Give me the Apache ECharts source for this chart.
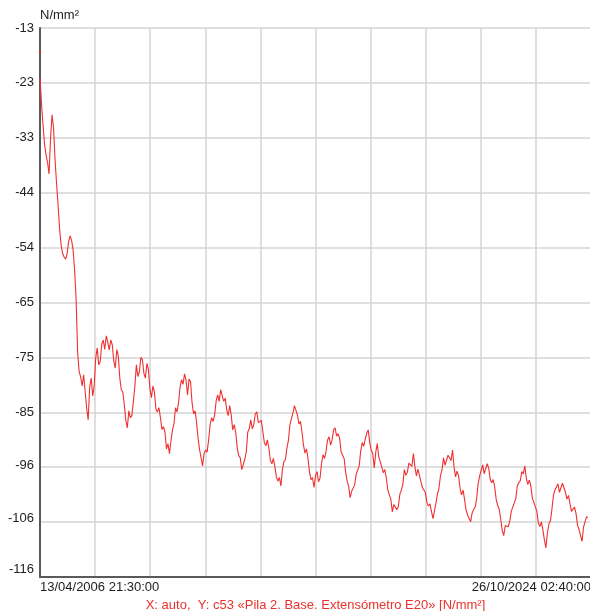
<!DOCTYPE html>
<html>
<head>
<meta charset="utf-8">
<script src="https://cdn.jsdelivr.net/npm/echarts@6/dist/echarts.min.js"></script>
<style>
html,body{margin:0;padding:0;background:#fff;}
#chart{width:590px;height:611px;}
</style>
</head>
<body>
<div id="chart"></div>
<script>
// ---- data ----
const startTime = [2006, 4, 13, 21, 30, 0];   // 13/04/2006 21:30:00
const endTime = [2024, 10, 26, 2, 40, 0];      // 26/10/2024 02:40:00
const sampleStepDays = 18.5;
const firstReading = -17.1;
const yTickLabels = [-116, -106, -96, -85, -75, -65, -54, -44, -33, -23, -13];
const yMin = -116.42, yMax = -12.6, yStep = 10.382;
const unitLabel = 'N/mm²';
const footer = 'X: auto,  Y: c53 «Pila 2. Base. Extensómetro E20» [N/mm²]';
const stress = [
-22.1, -27.0, -30.9, -34.5, -36.6, -38.0, -40.2, -33.5, -29.0, -31.5,
-37.5, -42.0, -46.1, -50.5, -53.6, -55.2, -55.9, -56.3, -55.3, -53.0,
-51.9, -52.8, -54.6, -58.5, -64.0, -74.0, -77.6, -78.6, -80.3, -78.2,
-81.4, -84.5, -86.7, -80.5, -78.8, -82.2, -80.3, -75.0, -73.1, -76.3,
-75.7, -72.4, -71.6, -73.4, -70.8, -72.0, -73.5, -71.6, -72.5, -75.6,
-76.9, -73.4, -74.6, -78.8, -81.0, -81.4, -83.9, -86.8, -88.2, -85.0,
-86.3, -85.9, -83.3, -80.4, -76.3, -78.5, -77.6, -74.9, -75.3, -77.9,
-78.8, -76.0, -77.2, -80.8, -82.5, -80.3, -81.4, -84.7, -85.2, -84.4,
-86.3, -88.5, -88.0, -89.0, -92.2, -91.2, -93.1, -90.6, -88.6, -87.4,
-84.4, -85.2, -83.5, -80.6, -79.1, -80.0, -78.0, -79.2, -82.0, -79.0,
-79.5, -83.5, -85.6, -85.0, -87.2, -90.2, -92.4, -92.6, -95.4, -93.0,
-92.4, -92.8, -90.5, -87.6, -86.3, -87.0, -85.8, -83.1, -82.0, -83.2,
-81.0, -81.2, -83.2, -82.6, -84.8, -85.9, -84.0, -85.8, -88.6, -87.6,
-89.1, -92.0, -93.5, -93.9, -96.1, -95.8, -94.2, -92.8, -89.0, -88.4,
-86.7, -88.4, -87.6, -85.6, -85.2, -87.2, -87.3, -86.8, -88.9, -91.0,
-91.6, -90.5, -92.0, -94.4, -95.0, -94.0, -95.6, -97.5, -98.3, -97.6,
-99.2, -96.1, -94.6, -94.2, -92.0, -90.6, -87.6, -87.9, -85.4, -84.0,
-84.0, -85.8, -87.5, -87.0, -89.0, -91.5, -93.0, -92.2, -94.0, -96.6,
-98.0, -97.6, -99.5, -97.2, -96.5, -98.4, -97.7, -94.9, -93.3, -94.0,
-92.6, -90.5, -89.9, -91.5, -90.5, -88.6, -88.2, -89.8, -89.3, -90.2,
-92.8, -92.6, -94.0, -96.6, -98.3, -99.3, -101.4, -100.2, -99.9, -99.0,
-97.0, -96.9, -95.4, -92.6, -91.0, -91.7, -90.4, -89.2, -88.6, -91.0,
-92.4, -93.1, -95.8, -92.8, -91.2, -93.7, -94.6, -94.8, -96.7, -96.1,
-97.7, -99.9, -100.9, -101.7, -104.1, -102.7, -102.6, -103.7, -103.1, -100.8,
-100.0, -98.9, -96.1, -97.2, -96.6, -94.9, -94.8, -95.5, -93.1, -95.6,
-97.3, -96.0, -95.8, -98.4, -99.5, -99.2, -100.5, -102.4, -103.0, -102.6,
-104.0, -105.4, -105.6, -102.4, -100.7, -99.6, -97.2, -96.2, -93.9, -95.3,
-95.2, -93.4, -93.3, -94.4, -92.4, -95.6, -97.5, -96.4, -97.3, -99.6,
-100.9, -100.0, -101.8, -103.8, -104.7, -104.6, -106.0, -104.3, -103.7, -103.2,
-101.6, -98.8, -97.3, -97.0, -95.2, -96.9, -96.6, -95.0, -95.8, -97.9,
-98.6, -98.0, -99.4, -101.8, -102.9, -103.6, -105.5, -107.6, -108.6, -106.7,
-106.5, -106.9, -105.9, -104.0, -103.2, -103.2, -101.6, -99.2, -98.6, -98.2,
-96.5, -96.9, -95.4, -97.8, -98.9, -98.1, -99.2, -101.5, -102.3, -102.1,
-104.0, -106.2, -106.9, -106.0, -107.5, -109.4, -110.9, -108.1, -106.4, -105.8,
-103.6, -101.0, -100.0, -100.2, -98.8, -100.4, -100.3, -98.7, -98.5, -100.4,
-101.7, -101.0, -102.6, -104.0, -104.0, -103.2, -104.4, -106.6, -107.4, -107.5,
-109.7, -107.0, -106.0, -105.0, -105.2
];

// ---- build ----
const DAY = 86400000;
const t0 = Date.UTC(startTime[0], startTime[1]-1, startTime[2], startTime[3], startTime[4], startTime[5]);
const t1 = Date.UTC(endTime[0], endTime[1]-1, endTime[2], endTime[3], endTime[4], endTime[5]);
const lineData = stress.map((v, i) => [t0 + (i === 0 ? 1 : i * sampleStepDays) * DAY, v]);

function pad(n){ return (n < 10 ? '0' : '') + n; }
function fmt(t){
  const d = new Date(t);
  return pad(d.getUTCDate()) + '/' + pad(d.getUTCMonth()+1) + '/' + d.getUTCFullYear() + ' ' +
    pad(d.getUTCHours()) + ':' + pad(d.getUTCMinutes()) + ':' + pad(d.getUTCSeconds());
}

const yShift = {'-116': 16, '-106': 8, '-96': 4};

const chart = echarts.init(document.getElementById('chart'), null, {renderer: 'canvas'});
chart.setOption({
  animation: false,
  backgroundColor: '#fff',
  textStyle: {fontFamily: 'Liberation Sans, Arial, sans-serif'},
  grid: {left: 40, right: -1, top: 28, bottom: 34, containLabel: false, outerBoundsMode: 'none'},
  xAxis: {
    type: 'value',
    min: t0, max: t1, interval: (t1 - t0) / 10,
    name: footer,
    nameLocation: 'middle',
    nameGap: 21,
    nameTextStyle: {color: '#e8322e', fontSize: 13, fontFamily: 'Liberation Sans, Arial, sans-serif'},
    axisLine: {show: true, onZero: false, lineStyle: {color: '#5a5a5a', width: 2}},
    axisTick: {show: false},
    splitLine: {show: true, lineStyle: {color: '#d4d4d4', width: 1.5}},
    axisLabel: {
      show: true, interval: 0, margin: 4,
      showMinLabel: true, showMaxLabel: true,
      alignMinLabel: 'left', alignMaxLabel: 'right',
      color: '#222', fontSize: 13,
      formatter: function (v) {
        if (Math.abs(v - t0) < 1000) return fmt(t0);
        if (Math.abs(v - t1) < 1000) return fmt(t1);
        return '';
      }
    }
  },
  yAxis: {
    type: 'value',
    min: yMin, max: yMax, interval: yStep,
    name: unitLabel,
    nameLocation: 'end',
    nameGap: 13,
    nameTextStyle: {color: '#222', fontSize: 13, align: 'left', verticalAlign: 'middle'},
    axisLine: {show: true, onZero: false, lineStyle: {color: '#5a5a5a', width: 2}},
    axisTick: {show: false},
    splitLine: {show: true, lineStyle: {color: '#d4d4d4', width: 1.5}},
    axisLabel: {
      show: true, margin: 6, color: '#222', fontSize: 13,
      showMinLabel: true, showMaxLabel: true,
      formatter: function (v) {
        let best = yTickLabels[0];
        yTickLabels.forEach(l => { if (Math.abs(l - v) < Math.abs(best - v)) best = l; });
        const s = yShift[String(best)];
        return s ? '{s' + s + '|' + best + '}' : String(best);
      },
      rich: {
        s16: {padding: [0, 0, 16, 0], fontSize: 13, color: '#222'},
        s8: {padding: [0, 0, 8, 0], fontSize: 13, color: '#222'},
        s4: {padding: [0, 0, 4, 0], fontSize: 13, color: '#222'}
      }
    }
  },
  series: [
    {
      type: 'line',
      data: lineData,
      showSymbol: false,
      symbol: 'none',
      sampling: null,
      lineStyle: {color: '#f03030', width: 1.1},
      z: 3
    },
    {
      type: 'scatter',
      data: [[t0, firstReading]],
      symbol: 'rect',
      symbolSize: [2, 3],
      itemStyle: {color: '#d02020'},
      z: 4
    }
  ]
});
</script>
</body>
</html>
